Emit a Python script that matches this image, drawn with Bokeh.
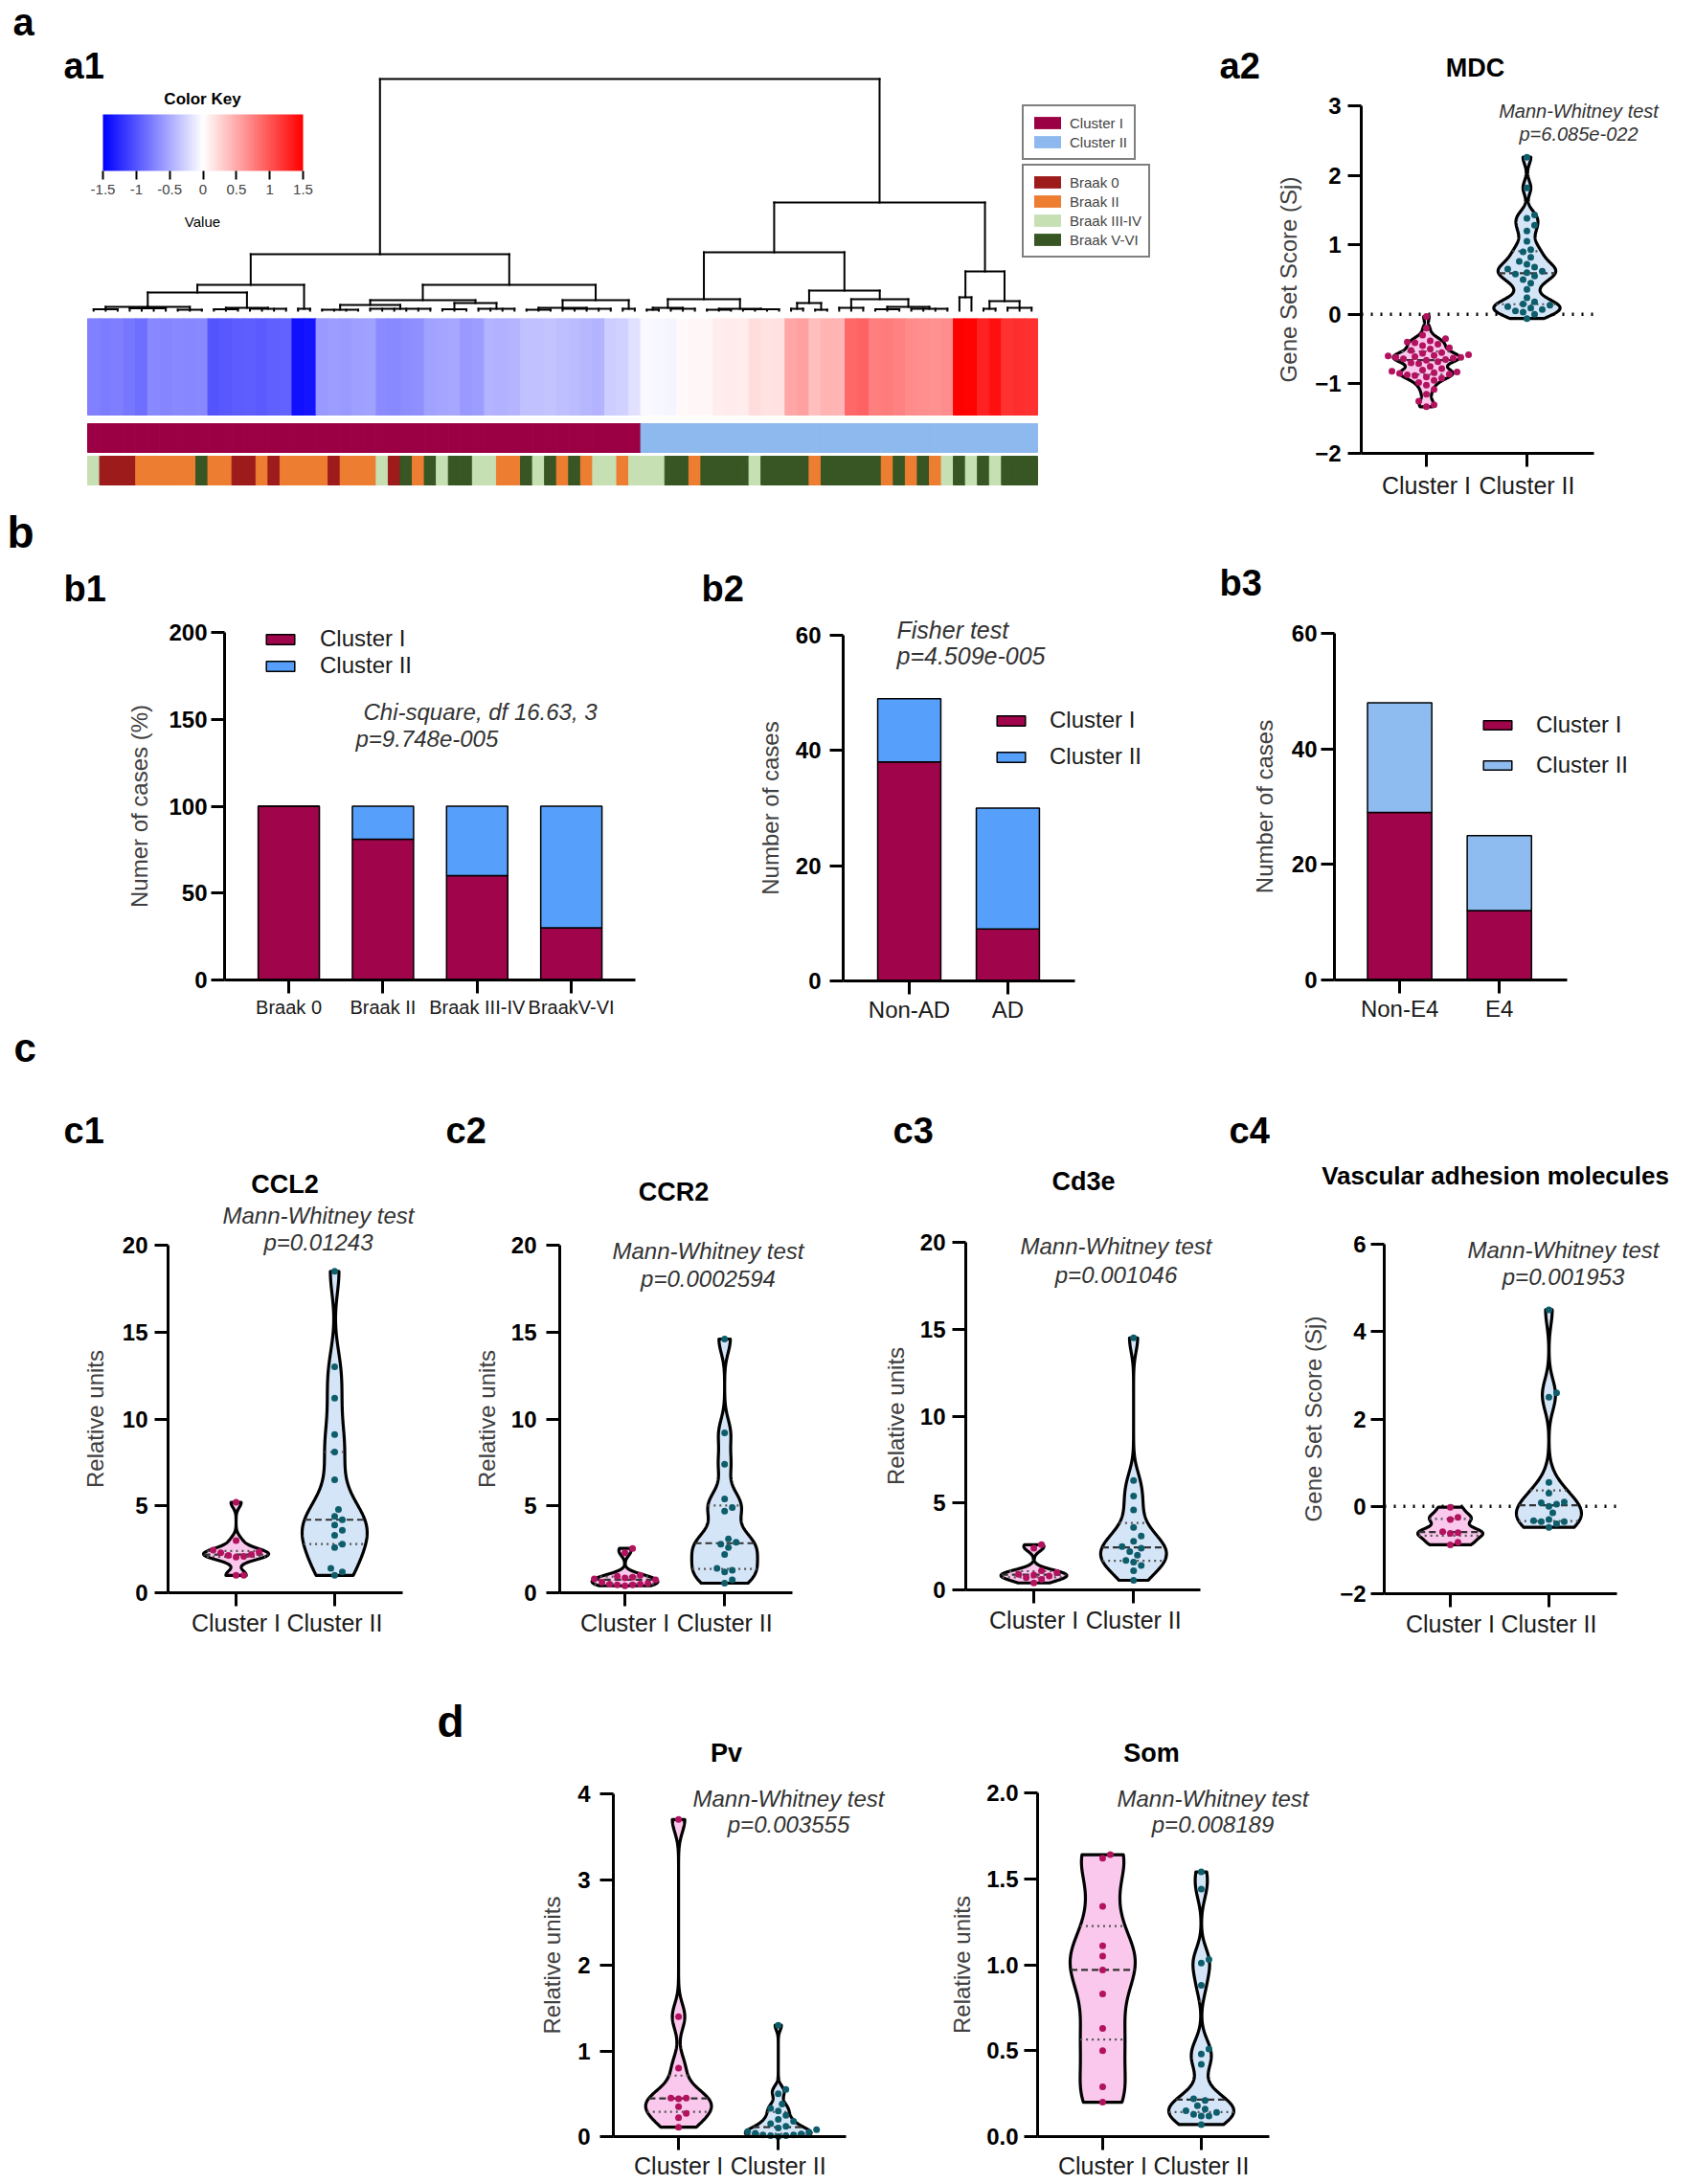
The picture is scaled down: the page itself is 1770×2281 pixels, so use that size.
import numpy as np
from bokeh.plotting import figure
from bokeh.models import (ColumnDataSource, FixedTicker, Label, Legend, LegendItem, ColorBar,
                          LinearColorMapper, PrintfTickFormatter, Spacer, Range1d,
                          CustomJSTickFormatter)
from bokeh.layouts import column, row
from bokeh.embed import file_html
from bokeh.resources import INLINE
from bokeh.transform import factor_cmap, linear_cmap

FONT = "Liberation Sans"

# ------------------------------------------------------------------ data: a1
heatmap_scores = [
    -0.74, -0.76, -0.75, -0.80, -0.85, -0.70, -0.72, -0.70, -0.71, -0.69,
    -1.00, -0.98, -0.95, -0.94, -0.96, -0.93, -0.92, -1.40, -1.38, -0.60,
    -0.58, -0.60, -0.57, -0.55, -0.68, -0.70, -0.67, -0.66, -0.55, -0.53,
    -0.52, -0.60, -0.58, -0.45, -0.46, -0.44, -0.37, -0.36, -0.35, -0.38,
    -0.40, -0.42, -0.45, -0.30, -0.27, -0.18, -0.04, -0.05, -0.06, 0.04,
    0.05, 0.05, 0.10, 0.12, 0.11, 0.20, 0.17, 0.18, 0.52, 0.55,
    0.38, 0.45, 0.44, 0.88, 0.92, 0.75, 0.76, 0.74, 0.68, 0.66,
    0.65, 0.67, 1.50, 1.48, 1.30, 1.40, 1.20, 1.22, 1.21]
braak_codes = [
    "III", "0", "0", "0", "II", "II", "II", "II", "II", "V",
    "II", "II", "0", "0", "II", "0", "II", "II", "II", "II",
    "0", "II", "II", "II", "III", "0", "V", "II", "V", "III",
    "V", "V", "III", "III", "II", "II", "V", "III", "V", "II",
    "V", "II", "III", "III", "II", "III", "III", "III", "V", "V",
    "II", "V", "V", "V", "V", "III", "V", "V", "V", "V",
    "II", "V", "V", "V", "V", "V", "II", "V", "II", "V",
    "II", "III", "V", "III", "V", "III", "V", "V", "V"]
braak_names = {"0": "Braak 0", "II": "Braak II", "III": "Braak III-IV", "V": "Braak V-VI"}
braak_levels = ["Braak 0", "Braak II", "Braak III-IV", "Braak V-VI"]
cluster_levels = ["Cluster I", "Cluster II"]
# dendrogram: [merge height, child, child, ...]; ints are heatmap columns
dendrogram = [242,
  [59,
    [27,
      [19,
        [4, [1.5, 0, 1, 2], [2.5, 3, 4, 5, 6], [1, 7, 8, 9]],
        [3, [1.5, 10, 11, 12], [2, 13, 14, 15, 16]]],
      [2, 17, 18]],
    [27,
      [11,
        [6, [1, 19, 20, 21, 22], [2, 23, 24, 25, 26, 27, 28]],
        [8, [1.5, 29, 30, 31], [2, 32, 33, 34, 35]]],
      [11,
        [3, [1, 36, 37, 38], [2, 39, 40, 41, 42, 43]],
        [2, 44, 45]]]],
  [113,
    [61,
      [12, [3, [1, 46, 47], [2, 48, 49, 50]], [2, [1, 51, 52, 53], [1.5, 54, 55, 56, 57]]],
      [21,
        [8, [2, 58, 59], [1, 60, 61]],
        [12, [3, 62, 63, 64], [4, [1.5, 65, 66, 67], [2, 68, 69, 70, 71]]]]],
    [41, [14, 72, 73], [10, [2, 74, 75], [3, 76, 77, 78]]]]]
key_ticks = [-1.5, -1, -0.5, 0, 0.5, 1, 1.5]

# ------------------------------------------------------------------ data: a2 (MDC)
a2_cluster1 = [-0.03, -0.20, -0.30, -0.35, -0.38, -0.40, -0.41, -0.43, -0.45, -0.48,
               -0.50, -0.52, -0.55, -0.56, -0.58, -0.59, -0.60, -0.61, -0.62, -0.62,
               -0.63, -0.64, -0.65, -0.66, -0.68, -0.70, -0.71, -0.75, -0.78, -0.80,
               -0.82, -0.83, -0.84, -0.85, -0.86, -0.87, -0.88, -0.90, -0.92, -0.95,
               -0.98, -1.02, -1.08, -1.15, -1.25, -1.30, -1.33]
a2_cluster2 = [2.26, 1.82, 1.43, 1.38, 1.28, 1.20, 1.05, 0.93, 0.90, 0.82,
               0.76, 0.72, 0.68, 0.65, 0.62, 0.60, 0.58, 0.55, 0.50, 0.45,
               0.36, 0.24, 0.18, 0.15, 0.13, 0.11, 0.09, 0.07, 0.05, 0.03,
               0.00, -0.06]
a2_yticks = [-2, -1, 0, 1, 2, 3]

# ------------------------------------------------------------------ data: b
b1_categories = ["Braak 0", "Braak II", "Braak III-IV", "BraakV-VI"]
b1_cluster1 = [100, 81, 60, 30]
b1_cluster2 = [0, 19, 40, 70]
b1_yticks = [0, 50, 100, 150, 200]
b2_categories = ["Non-AD", "AD"]
b2_cluster1 = [38, 9]
b2_cluster2 = [11, 21]
b3_categories = ["Non-E4", "E4"]
b3_cluster1 = [29, 12]
b3_cluster2 = [19, 13]
b23_yticks = [0, 20, 40, 60]

# ------------------------------------------------------------------ data: c, d
group_labels = ["Cluster I", "Cluster II"]
ccl2_cluster1 = [5.2, 3.0, 2.45, 2.35, 2.3, 2.2, 2.15, 2.1, 2.05, 1.0, 1.0]
ccl2_cluster2 = [18.5, 13.0, 11.2, 9.1, 8.1, 6.5, 4.8, 4.4, 4.2, 3.9, 3.6, 3.3, 2.8, 2.6, 1.4, 1.2, 1.0]
ccr2_cluster1 = [2.55, 2.3, 1.0, 0.95, 0.9, 0.85, 0.8, 0.75, 0.6, 0.55, 0.5, 0.5, 0.45, 0.45, 0.4]
ccr2_cluster2 = [14.6, 9.2, 7.4, 5.4, 4.9, 4.7, 3.1, 2.9, 2.8, 2.6, 2.2, 1.4, 1.3, 1.2, 0.75, 0.55]
cd3e_cluster1 = [2.6, 2.4, 1.1, 1.0, 0.9, 0.85, 0.8, 0.7, 0.6, 0.4]
cd3e_cluster2 = [14.5, 6.3, 5.4, 4.6, 3.6, 3.1, 2.8, 2.5, 2.4, 2.2, 2.0, 1.7, 1.6, 1.4, 1.1, 0.55]
vam_cluster1 = [-0.02, -0.25, -0.30, -0.58, -0.60, -0.62, -0.82, -0.88]
vam_cluster2 = [4.5, 2.6, 2.5, 0.55, 0.3, 0.1, 0.08, 0.05, 0.0, -0.15, -0.3, -0.33, -0.35, -0.35, -0.4, -0.48]
pv_cluster1 = [3.7, 1.4, 0.8, 0.45, 0.45, 0.44, 0.35, 0.27, 0.22, 0.11]
pv_cluster2 = [1.3, 0.55, 0.5, 0.38, 0.33, 0.3, 0.25, 0.2, 0.18, 0.15, 0.12, 0.1, 0.08,
               0.06, 0.05, 0.04, 0.03, 0.02, 0.02, 0.01, 0.01, 0.0]
som_cluster1 = [1.64, 1.62, 1.34, 1.11, 1.05, 0.97, 0.83, 0.63, 0.5, 0.29, 0.2]
som_cluster2 = [1.54, 1.44, 1.03, 1.01, 0.88, 0.51, 0.48, 0.42, 0.22, 0.21, 0.18, 0.16,
                0.15, 0.14, 0.13, 0.12, 0.12, 0.07]
rel_yticks = [0, 5, 10, 15, 20]
vam_yticks = [-2, 0, 2, 4, 6]
pv_yticks = [0, 1, 2, 3, 4]
som_yticks = [0, 0.5, 1.0, 1.5, 2.0]

# ------------------------------------------------------------------ styles
C1 = "#a0044a"
C2 = "#56a0fb"
C2_LIGHT = "#8fbcf0"
HM_C1 = "#9c0044"
HM_C2 = "#8db9ef"
BRAAK_COLORS = ["#9e1b1b", "#ed7d31", "#c6e0b4", "#375623"]
PINK_FILL, PINK_DOT = "#fac8ec", "#b3125f"
BLUE_FILL, BLUE_DOT = "#d5e5f8", "#0d5d6b"
TXT = "#333333"


def bwr(n=255):
    cols = []
    for i in range(n):
        t = i / (n - 1) * 2 - 1
        if t < 0:
            r = g = int(round(255 * (1 + t)))
            b = 255
        else:
            r = 255
            g = b = int(round(255 * (1 - t)))
        cols.append("#%02x%02x%02x" % (r, g, b))
    return cols


def make_panel(canvas, box, xlim, ylim, axes=True):
    """Figure whose frame is the whole canvas; the data limits xlim/ylim land on `box`."""
    cx0, cy0, cx1, cy1 = canvas
    px0, py0, px1, py1 = box
    ppx = (px1 - px0) / (xlim[1] - xlim[0])
    ppy = (py1 - py0) / (ylim[1] - ylim[0])
    xr = Range1d(xlim[0] - (px0 - cx0) / ppx, xlim[1] + (cx1 - px1) / ppx)
    yr = Range1d(ylim[0] - (cy1 - py1) / ppy, ylim[1] + (py0 - cy0) / ppy)
    kw = {} if axes else dict(x_axis_location=None, y_axis_location=None)
    p = figure(width=cx1 - cx0, height=cy1 - cy0, x_range=xr, y_range=yr, title=None,
               output_backend="svg", toolbar_location=None,
               min_border_left=0, min_border_right=0, min_border_top=0, min_border_bottom=0, **kw)
    p.outline_line_color = None
    for g in p.grid:
        g.visible = False
    p.background_fill_color = "white"
    p.border_fill_color = "white"
    if axes:
        p.xaxis[0].fixed_location = ylim[0]
        p.xaxis[0].bounds = tuple(xlim)
        p.yaxis[0].fixed_location = xlim[0]
        p.yaxis[0].bounds = tuple(ylim)
    return p


def add_text(p, canvas, x, y, text, size, style="normal", align="left", color="black"):
    """y is the text baseline in page pixels; the label is anchored on its middle."""
    cx0, cy0, cx1, cy1 = canvas
    ymid = y - 0.36 * size
    p.add_layout(Label(x=x - cx0, y=cy1 - ymid, x_units="screen", y_units="screen", text=text,
                       text_font=FONT, text_font_size=f"{size}px", text_font_style=style,
                       text_align=align, text_baseline="middle", text_color=color))


def style_axes(p, yticks, xticks, xlabels, ylabel, ylab_std, ytick_std=7, cat_size=25,
               cat_std=3, yfmt=None, tick_len=14):
    xa, ya = p.xaxis[0], p.yaxis[0]
    for ax in (xa, ya):
        ax.axis_line_width = 3
        ax.axis_line_color = "black"
        ax.major_tick_line_width = 3
        ax.major_tick_line_color = "black"
        ax.major_tick_out = tick_len
        ax.major_tick_in = 0
        ax.minor_tick_line_color = None
        ax.major_label_text_font = FONT
    ya.ticker = FixedTicker(ticks=yticks)
    if yfmt is not None:
        ya.formatter = yfmt
    ya.major_label_text_font_size = "24px"
    ya.major_label_text_font_style = "bold"
    ya.major_label_text_color = "black"
    ya.major_label_standoff = ytick_std
    ya.axis_label = ylabel
    ya.axis_label_text_font = FONT
    ya.axis_label_text_font_size = "24px"
    ya.axis_label_text_font_style = "normal"
    ya.axis_label_text_color = "#404040"
    ya.axis_label_standoff = ylab_std
    xa.ticker = FixedTicker(ticks=xticks)
    xa.major_label_overrides = {t: l for t, l in zip(xticks, xlabels)}
    xa.major_label_text_font_size = f"{cat_size}px"
    xa.major_label_text_color = "#1a1a1a"
    xa.major_label_standoff = cat_std


def swarm_offsets(vals, ppu_x, ppu_y, d):
    v = np.asarray(vals, float)
    order = np.argsort(v, kind="stable")
    px, py = [], []
    out = np.zeros(len(v))
    steps = [0.0]
    for k in range(1, 40):
        steps += [k * d * 0.5, -k * d * 0.5]
    for i in order:
        y = v[i] * ppu_y
        chosen = steps[-1]
        for s in steps:
            if all((qx - s) ** 2 + (qy - y) ** 2 >= 0.9 * d * d for qx, qy in zip(px, py)):
                chosen = s
                break
        px.append(chosen)
        py.append(y)
        out[i] = chosen / ppu_x
    return out


def violin(p, vals, center, bw, fill, dot, ppu_x, ppu_y, halfw=0.33, d=8, size=7):
    v = np.asarray(vals, float)
    grid = np.linspace(v.min(), v.max(), 300)
    dens = np.exp(-0.5 * ((grid[:, None] - v[None, :]) / bw) ** 2).sum(axis=1)
    w = dens / dens.max() * halfw
    xs = np.concatenate([center - w, (center + w)[::-1]])
    ys = np.concatenate([grid, grid[::-1]])
    p.patch(xs, ys, fill_color=fill, line_color="black", line_width=3.2, line_join="round")
    q1, med, q3 = np.percentile(v, [25, 50, 75])
    for q, dash, col in ((q1, "2 4", "#555555"), (q3, "2 4", "#555555"), (med, "7 4", "#333333")):
        hw = float(np.interp(q, grid, w))
        p.segment(x0=[center - hw], y0=[q], x1=[center + hw], y1=[q], line_color=col,
                  line_dash=dash, line_width=2.2)
    offs = swarm_offsets(v, ppu_x, ppu_y, d)
    p.scatter(center + offs, v, size=size, fill_color=dot, line_color=None)


def violin_panel(canvas, box, xlim, ylim, g1, g2, bws, yticks, ylabel, ylab_std, ytick_std,
                 yfmt=None, zero=False, cat_std=3):
    p = make_panel(canvas, box, xlim, ylim)
    style_axes(p, yticks, [1, 2], group_labels, ylabel, ylab_std, ytick_std=ytick_std,
               yfmt=yfmt, cat_std=cat_std)
    if zero:
        p.segment(x0=[xlim[0]], y0=[0], x1=[xlim[1]], y1=[0], line_color="black",
                  line_width=3.5, line_dash="2 8")
    ppu_x = (box[2] - box[0]) / (xlim[1] - xlim[0])
    ppu_y = (box[3] - box[1]) / (ylim[1] - ylim[0])
    violin(p, g1, 1, bws[0], PINK_FILL, PINK_DOT, ppu_x, ppu_y)
    violin(p, g2, 2, bws[1], BLUE_FILL, BLUE_DOT, ppu_x, ppu_y)
    return p


def bar_panel(canvas, box, xlim, ylim, cats, c1, c2, col2, yticks, ylabel, ylab_std, ytick_std,
              cat_size, width, legend_loc, spacing, glyph_h, standoff, cat_std=3):
    p = make_panel(canvas, box, xlim, ylim)
    xs = list(range(1, len(cats) + 1))
    src = ColumnDataSource(dict(x=xs, c1=c1, c2=c2))
    rs = p.vbar_stack(["c1", "c2"], x="x", width=width, source=src, fill_color=[C1, col2],
                      line_color="black", line_width=1.5)
    style_axes(p, yticks, xs, cats, ylabel, ylab_std, ytick_std=ytick_std, cat_size=cat_size,
               cat_std=cat_std)
    leg = Legend(items=[LegendItem(label="Cluster I", renderers=[rs[0]]),
                        LegendItem(label="Cluster II", renderers=[rs[1]])],
                 location=legend_loc, border_line_color=None, background_fill_alpha=0,
                 padding=0, margin=0, spacing=spacing, label_standoff=standoff,
                 glyph_width=37, glyph_height=glyph_h, label_text_font=FONT,
                 label_text_font_size="24px", label_text_color="#1a1a1a")
    p.add_layout(leg)
    return p


def dendro_segments(node, acc):
    if isinstance(node, int):
        return node + 0.5, 0.0
    h = node[0]
    kids = [dendro_segments(k, acc) for k in node[1:]]
    for kx, kh in kids:
        acc.append((kx, kh, kx, h))
    acc.append((kids[0][0], h, kids[-1][0], h))
    return (kids[0][0] + kids[-1][0]) / 2, h


def leaves(node):
    if isinstance(node, int):
        return [node]
    out = []
    for k in node[1:]:
        out += leaves(k)
    return out


# ================================================================== panel a1
ncol = len(heatmap_scores)
A1X0, A1X1 = 91, 1083
dend_canvas = (0, 0, 1205, 332)
dend = make_panel(dend_canvas, (A1X0, 79, A1X1, 326), (0, ncol), (-2, 245), axes=False)
segs = []
dendro_segments(dendrogram, segs)
segs = np.array(segs)
dend.segment(x0=segs[:, 0], y0=segs[:, 1], x1=segs[:, 2], y1=segs[:, 3], line_color="black",
             line_width=2, line_cap="square")
palette = bwr()
mapper = LinearColorMapper(palette=palette, low=-1.5, high=1.5)
cb = ColorBar(color_mapper=mapper, orientation="horizontal", location=(107, 127), width=209,
              height=59, ticker=FixedTicker(ticks=key_ticks), padding=0, margin=0,
              label_standoff=5, major_tick_out=9, major_tick_in=0, major_tick_line_color="black",
              major_tick_line_width=2, minor_tick_line_color=None,
              formatter=CustomJSTickFormatter(code="return tick.toString()"),
              major_label_text_font=FONT, major_label_text_font_size="15px",
              bar_line_color=None, border_line_color=None, background_fill_alpha=0)
dend.add_layout(cb)
add_text(dend, dend_canvas, 211, 109, "Color Key", 17, style="bold", align="center")
add_text(dend, dend_canvas, 211, 236, "Value", 15, align="center")
add_text(dend, dend_canvas, 13, 37, "a", 40, style="bold")
add_text(dend, dend_canvas, 66, 82, "a1", 38, style="bold")

# legend-only renderers (hidden; they just carry the swatch colours)
cl_r = [dend.rect(x=[0], y=[0], width=1, height=1, fill_color=c, line_color=None, visible=False)
        for c in (HM_C1, HM_C2)]
br_r = [dend.rect(x=[0], y=[0], width=1, height=1, fill_color=c, line_color=None, visible=False)
        for c in BRAAK_COLORS]
leg_kw = dict(border_line_color="black", border_line_width=2, padding=7, spacing=0, margin=0,
              label_standoff=6, glyph_width=35, glyph_height=16, label_height=20,
              label_text_font=FONT, label_text_font_size="15px", background_fill_color="white")
dend.add_layout(Legend(items=[LegendItem(label=l, renderers=[r]) for l, r in zip(cluster_levels, cl_r)],
                       location=(1067, 165), **leg_kw))
dend.add_layout(Legend(items=[LegendItem(label=l, renderers=[r]) for l, r in zip(braak_levels, br_r)],
                       location=(1067, 63), **leg_kw))

cluster_one = set(leaves(dendrogram[1]))
cluster_of_col = ["Cluster I" if i in cluster_one else "Cluster II" for i in range(ncol)]
src_a1 = ColumnDataSource(dict(x=np.arange(ncol) + 0.5, v=heatmap_scores, cl=cluster_of_col,
                               br=[braak_names[c] for c in braak_codes]))
heat = make_panel((0, 332, 1205, 436), (A1X0, 332, A1X1, 433), (0, ncol), (0, 1), axes=False)
hm_cmap = linear_cmap("v", palette, -1.5, 1.5)
heat.rect(x="x", y=0.5, width=1, height=1, source=src_a1, fill_color=hm_cmap, line_color=hm_cmap,
          line_width=1)
cbar = make_panel((0, 436, 1205, 474), (A1X0, 442, A1X1, 472), (0, ncol), (0, 1), axes=False)
cl_cmap = factor_cmap("cl", [HM_C1, HM_C2], cluster_levels)
cbar.rect(x="x", y=0.5, width=1, height=1, source=src_a1, fill_color=cl_cmap, line_color=cl_cmap,
          line_width=1)
bbar = make_panel((0, 474, 1205, 528), (A1X0, 476, A1X1, 506), (0, ncol), (0, 1), axes=False)
br_cmap = factor_cmap("br", BRAAK_COLORS, braak_levels)
bbar.rect(x="x", y=0.5, width=1, height=1, source=src_a1, fill_color=br_cmap, line_color=br_cmap,
          line_width=1)

# ================================================================== panel a2
a2_canvas = (1205, 0, 1766, 528)
a2 = violin_panel(a2_canvas, (1421, 110, 1664, 473), (0.352, 2.667), (-2, 3), a2_cluster1,
                  a2_cluster2, (0.06, 0.1), a2_yticks, "Gene Set Score (Sj)", 11, 7, zero=True,
                  cat_std=5)
add_text(a2, a2_canvas, 1273, 82, "a2", 38, style="bold")
add_text(a2, a2_canvas, 1540, 80, "MDC", 27, style="bold", align="center")
add_text(a2, a2_canvas, 1648, 123, "Mann-Whitney test", 20, style="italic", align="center", color=TXT)
add_text(a2, a2_canvas, 1648, 147, "p=6.085e-022", 20, style="italic", align="center", color=TXT)

# ================================================================== panel b
b1_canvas = (0, 528, 700, 1070)
b1 = bar_panel(b1_canvas, (234, 660, 663, 1023), (0.318, 4.68), (0, 200), b1_categories,
               b1_cluster1, b1_cluster2, C2, b1_yticks, "Numer of cases (%)", 14, 4, 20, 0.65,
               (274, 361), 0, 13, 23)
add_text(b1, b1_canvas, 7, 572, "b", 46, style="bold")
add_text(b1, b1_canvas, 66, 628, "b1", 38, style="bold")
add_text(b1, b1_canvas, 379, 752, "Chi-square, df 16.63, 3", 24, style="italic", color=TXT)
add_text(b1, b1_canvas, 371, 780, "p=9.748e-005", 24, style="italic", color=TXT)

b2_canvas = (700, 528, 1260, 1070)
b2 = bar_panel(b2_canvas, (880, 663, 1122, 1024), (0.33, 2.68), (0, 60), b2_categories,
               b2_cluster1, b2_cluster2, C2, b23_yticks, "Number of cases", 10, 9, 24, 0.64,
               (337, 266), 10, 13, 22, cat_std=2)
add_text(b2, b2_canvas, 732, 628, "b2", 38, style="bold")
add_text(b2, b2_canvas, 936, 666, "Fisher test", 25, style="italic", color=TXT)
add_text(b2, b2_canvas, 936, 693, "p=4.509e-005", 25, style="italic", color=TXT)

b3_canvas = (1260, 528, 1766, 1070)
b3 = bar_panel(b3_canvas, (1393, 661, 1636, 1023), (0.346, 2.68), (0, 60), b3_categories,
               b3_cluster1, b3_cluster2, C2_LIGHT, b23_yticks, "Number of cases", 12, 4, 24, 0.645,
               (285, 257), 14, 12, 22, cat_std=2)
add_text(b3, b3_canvas, 1273, 622, "b3", 38, style="bold")

# ================================================================== panel c
c1_canvas = (0, 1070, 455, 1740)
c1 = violin_panel(c1_canvas, (175, 1300, 420, 1663), (0.31, 2.69), (0, 20), ccl2_cluster1,
                  ccl2_cluster2, (0.3, 1.3), rel_yticks, "Relative units", 12, 7)
add_text(c1, c1_canvas, 14, 1109, "c", 42, style="bold")
add_text(c1, c1_canvas, 66, 1194, "c1", 38, style="bold")
add_text(c1, c1_canvas, 297, 1246, "CCL2", 27, style="bold", align="center")
add_text(c1, c1_canvas, 332, 1278, "Mann-Whitney test", 24, style="italic", align="center", color=TXT)
add_text(c1, c1_canvas, 332, 1306, "p=0.01243", 24, style="italic", align="center", color=TXT)

c2_canvas = (455, 1070, 915, 1740)
c2 = violin_panel(c2_canvas, (584, 1300, 827, 1663), (0.346, 2.68), (0, 20), ccr2_cluster1,
                  ccr2_cluster2, (0.25, 0.8), rel_yticks, "Relative units", 9, 10)
add_text(c2, c2_canvas, 465, 1194, "c2", 38, style="bold")
add_text(c2, c2_canvas, 703, 1254, "CCR2", 27, style="bold", align="center")
add_text(c2, c2_canvas, 739, 1315, "Mann-Whitney test", 24, style="italic", align="center", color=TXT)
add_text(c2, c2_canvas, 739, 1344, "p=0.0002594", 24, style="italic", align="center", color=TXT)

c3_canvas = (915, 1070, 1275, 1740)
c3 = violin_panel(c3_canvas, (1008, 1297, 1253, 1660), (0.317, 2.67), (0, 20), cd3e_cluster1,
                  cd3e_cluster2, (0.25, 0.8), rel_yticks, "Relative units", 9, 7)
add_text(c3, c3_canvas, 932, 1194, "c3", 38, style="bold")
add_text(c3, c3_canvas, 1131, 1243, "Cd3e", 27, style="bold", align="center")
add_text(c3, c3_canvas, 1165, 1310, "Mann-Whitney test", 24, style="italic", align="center", color=TXT)
add_text(c3, c3_canvas, 1165, 1340, "p=0.001046", 24, style="italic", align="center", color=TXT)

c4_canvas = (1275, 1070, 1766, 1740)
c4 = violin_panel(c4_canvas, (1445, 1299, 1688, 1664), (0.33, 2.69), (-2, 6), vam_cluster1,
                  vam_cluster2, (0.12, 0.35), vam_yticks, "Gene Set Score (Sj)", 11, 5, zero=True)
add_text(c4, c4_canvas, 1283, 1194, "c4", 38, style="bold")
add_text(c4, c4_canvas, 1561, 1237, "Vascular adhesion molecules", 26, style="bold", align="center")
add_text(c4, c4_canvas, 1632, 1314, "Mann-Whitney test", 24, style="italic", align="center", color=TXT)
add_text(c4, c4_canvas, 1632, 1342, "p=0.001953", 24, style="italic", align="center", color=TXT)

# ================================================================== panel d
pv_canvas = (450, 1740, 950, 2277)
pv = violin_panel(pv_canvas, (640, 1873, 883, 2231), (0.346, 2.68), (0, 4), pv_cluster1,
                  pv_cluster2, (0.15, 0.06), pv_yticks, "Relative units", 10, 10, cat_std=2)
add_text(pv, pv_canvas, 456, 1814, "d", 46, style="bold")
add_text(pv, pv_canvas, 758, 1840, "Pv", 27, style="bold", align="center")
add_text(pv, pv_canvas, 823, 1887, "Mann-Whitney test", 24, style="italic", align="center", color=TXT)
add_text(pv, pv_canvas, 823, 1914, "p=0.003555", 24, style="italic", align="center", color=TXT)

som_canvas = (950, 1740, 1400, 2277)
som = violin_panel(som_canvas, (1083, 1872, 1325, 2231), (0.34, 2.69), (0, 2), som_cluster1,
                   som_cluster2, (0.15, 0.08), som_yticks, "Relative units", 9, 6,
                   yfmt=PrintfTickFormatter(format="%.1f"), cat_std=2)
add_text(som, som_canvas, 1202, 1840, "Som", 27, style="bold", align="center")
add_text(som, som_canvas, 1266, 1887, "Mann-Whitney test", 24, style="italic", align="center", color=TXT)
add_text(som, som_canvas, 1266, 1914, "p=0.008189", 24, style="italic", align="center", color=TXT)

# ================================================================== layout
rowA = row(column(dend, heat, cbar, bbar), a2)
rowB = row(b1, b2, b3)
rowC = row(c1, c2, c3, c4)
rowD = row(Spacer(width=450, height=537), pv, som, Spacer(width=366, height=537))
page = column(rowA, rowB, rowC, rowD)

open("out.html", "w").write(file_html(page, INLINE, title="Figure"))
